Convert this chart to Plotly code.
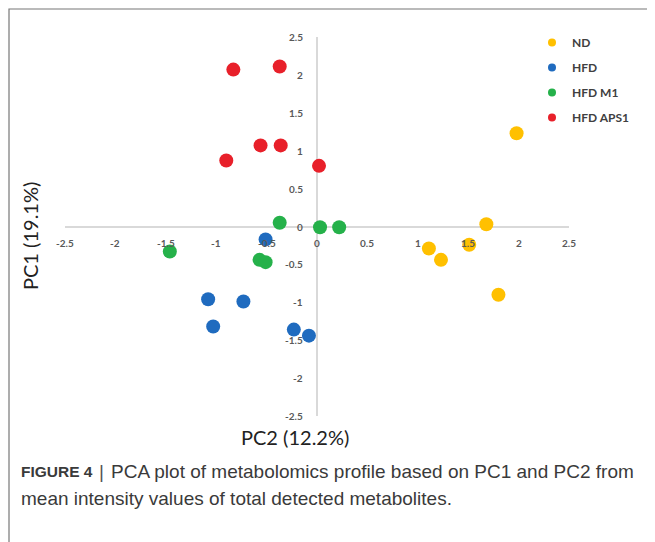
import plotly.graph_objects as go

# ---- data ----
groups = ["ND", "HFD", "HFD M1", "HFD APS1"]
colors = ["#FFC000", "#1F6BBF", "#25B14A", "#E8202A"]

nd_x = [1.98, 1.68, 1.11, 1.23, 1.51, 1.80]
nd_y = [1.23, 0.03, -0.29, -0.44, -0.24, -0.90]

hfd_x = [-0.51, -1.08, -0.73, -1.03, -0.23, -0.08]
hfd_y = [-0.17, -0.96, -0.99, -1.32, -1.36, -1.44]

m1_x = [-0.37, 0.03, 0.22, -1.46, -0.57, -0.51]
m1_y = [0.05, -0.01, -0.01, -0.33, -0.44, -0.47]

aps_x = [-0.83, -0.37, -0.56, -0.36, -0.90, 0.02]
aps_y = [2.07, 2.11, 1.07, 1.07, 0.87, 0.80]

tick_vals = [-2.5, -2, -1.5, -1, -0.5, 0, 0.5, 1, 1.5, 2, 2.5]
tick_text = ["-2.5", "-2", "-1.5", "-1", "-0.5", "0", "0.5", "1", "1.5", "2", "2.5"]

xs = [nd_x, hfd_x, m1_x, aps_x]
ys = [nd_y, hfd_y, m1_y, aps_y]

fig = go.Figure()
for name, c, x, y in zip(groups, colors, xs, ys):
    fig.add_trace(go.Scatter(x=x, y=y, mode="markers", name=name, showlegend=False,
                             marker=dict(color=c, size=14, line=dict(width=0))))
# legend entries (small markers)
for name, c in zip(groups, colors):
    fig.add_trace(go.Scatter(x=[None], y=[None], mode="markers", name=name,
                             legendgroup=name, marker=dict(color=c, size=8)))

tick_font = dict(family="Lato, Open Sans, sans-serif", size=10, color="#595959", weight="bold")
ann = []
for v, t in zip(tick_vals, tick_text):
    ann.append(dict(x=v, y=0, xref="x", yref="y", text=t, showarrow=False,
                    xanchor="center", yanchor="middle", yshift=-16, font=tick_font))
    ann.append(dict(x=0, y=v, xref="x", yref="y", text=t, showarrow=False,
                    xanchor="right", yanchor="middle", xshift=-12, font=tick_font))


def px_x(px):
    return (px - 65) / 504


def px_y(py):
    return (416 - py) / 379


title_font = dict(family="Lato, Open Sans, sans-serif", size=20, color="#222222")
ann.append(dict(x=px_x(295), y=px_y(437), xref="paper", yref="paper", text="PC2 (12.2%)",
                showarrow=False, xanchor="center", yanchor="middle", font=title_font))
ann.append(dict(x=px_x(30), y=px_y(236), xref="paper", yref="paper", text="PC1 (19.1%)",
                showarrow=False, xanchor="center", yanchor="middle", textangle=-90,
                font=title_font))

cap_color = "#3a3a3a"
bold_font = dict(family="Liberation Sans, Arial, sans-serif", size=15.5,
                 color=cap_color, weight="bold")
bar_font = dict(family="Liberation Sans, Arial, sans-serif", size=19, color="#555555")
cap_font = dict(family="Liberation Sans, Arial, sans-serif", size=19, color=cap_color)
y1 = px_y(471)
y2 = px_y(498)
ann.append(dict(x=px_x(19), y=y1, xref="paper", yref="paper", text="FIGURE 4",
                showarrow=False, xanchor="left", yanchor="middle", font=bold_font))
ann.append(dict(x=px_x(101), y=y1, xref="paper", yref="paper", text="|",
                showarrow=False, xanchor="center", yanchor="middle", font=bar_font))
ann.append(dict(x=px_x(109), y=y1, xref="paper", yref="paper",
                text="PCA plot of metabolomics profile based on PC1 and PC2 from",
                showarrow=False, xanchor="left", yanchor="middle", font=cap_font))
ann.append(dict(x=px_x(19), y=y2, xref="paper", yref="paper",
                text="mean intensity values of total detected metabolites.",
                showarrow=False, xanchor="left", yanchor="middle", font=cap_font))

axis_common = dict(range=[-2.5, 2.5], showgrid=False, showticklabels=False, ticks="",
                   zeroline=True, zerolinecolor="#D9D9D9", zerolinewidth=1.5,
                   showline=False, fixedrange=True)

# page body has an 8px default margin, so the plot area is offset accordingly
fig.update_layout(
    width=655, height=542,
    margin=dict(l=57, r=94, t=29, b=134, autoexpand=False),
    paper_bgcolor="white", plot_bgcolor="white",
    xaxis=axis_common, yaxis=axis_common,
    annotations=ann,
    showlegend=True,
    legend=dict(x=px_x(532), y=px_y(28), xanchor="left", yanchor="top",
                font=dict(family="Lato, Open Sans, sans-serif", size=12, color="#404040",
                          weight="bold"),
                tracegroupgap=6, traceorder="grouped", itemwidth=30,
                bgcolor="rgba(0,0,0,0)"),
    shapes=[dict(type="rect", xref="paper", yref="paper",
                 x0=px_x(9), x1=1.3, y0=px_y(9), y1=-0.5,
                 line=dict(color="#777777", width=1.2), fillcolor="rgba(0,0,0,0)")],
)

fig.write_html("out.html")
